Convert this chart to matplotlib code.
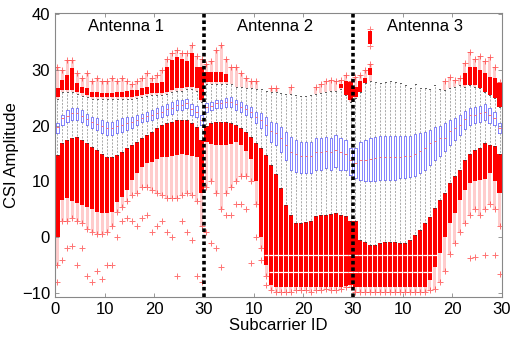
import numpy as np
import matplotlib.pyplot as plt

plt.rcParams['font.family'] = ['Liberation Sans', 'DejaVu Sans']

nan = np.nan

# 90 boxes: 30 subcarriers for each of the 3 antennas
q3 = [20.5, 21.9, 22.8, 23.2, 23.2, 22.8, 22.1, 21.5, 21.3, 21.0, 20.6, 20.6, 21.0, 21.3, 21.5, 21.5, 21.9, 22.1, 22.5, 22.8, 23.2, 23.5, 23.9, 24.2, 24.6, 24.6, 24.8, 23.9, 23.5, 21.9,
      24.0, 24.2, 24.6, 24.6, 24.9, 25.1, 24.6, 24.2, 23.7, 23.3, 22.4, 22.2, 21.5, 20.6, 20.4, 19.7, 18.9, 18.0, 17.4, 17.1, 17.1, 17.1, 17.8, 17.8, 18.0, 17.8, 18.3, 17.8, 17.4, 16.0,
      16.0, 17.1, 17.4, 17.8, 17.9, 18.1, 18.1, 18.1, 18.1, 18.1, 18.1, 18.1, 18.5, 18.7, 18.9, 19.2, 19.7, 19.9, 20.5, 21.0, 21.3, 21.9, 22.6, 23.2, 23.3, 23.5, 23.9, 23.2, 22.4, 20.5]
med = [19.7, 21.3, 21.8, 22.2, 22.2, 21.8, 21.2, 20.6, 20.3, 19.9, 19.5, 19.5, 19.9, 20.1, 20.4, 20.6, 21.1, 21.4, 21.7, 21.9, 22.3, 22.5, 22.9, 23.2, 23.7, 23.7, 24.0, 22.9, 22.5, 21.1,
       23.3, 23.6, 24.0, 24.0, 24.2, 24.3, 23.8, 23.4, 22.9, 22.5, 21.6, 21.0, 20.1, 19.0, 18.6, 17.7, 16.6, 15.3, 14.9, 14.6, 14.6, 14.6, 15.2, 15.2, 15.5, 15.2, 15.7, 15.2, 15.0, 13.9,
       13.3, 13.8, 13.9, 14.1, 14.2, 14.3, 14.4, 14.4, 14.3, 14.4, 14.5, 14.6, 15.0, 15.4, 16.0, 16.9, 17.3, 17.8, 17.8, 19.0, 19.5, 20.1, 21.2, 21.9, 21.9, 22.2, 22.4, 22.0, 21.3, 19.6]
q1 = [18.7, 20.2, 20.6, 21.0, 21.0, 20.6, 20.2, 19.6, 19.2, 18.7, 18.3, 18.3, 18.7, 18.9, 19.2, 19.6, 20.2, 20.6, 20.8, 21.0, 21.3, 21.5, 21.9, 22.1, 22.8, 22.8, 23.2, 21.9, 21.5, 20.2,
      22.4, 22.8, 23.2, 23.2, 23.3, 23.3, 22.8, 22.4, 21.9, 21.5, 20.5, 19.6, 18.3, 17.1, 16.5, 15.3, 13.8, 12.0, 11.7, 11.5, 11.5, 11.5, 12.0, 12.0, 12.4, 12.0, 12.6, 12.0, 12.0, 11.2,
      10.6, 10.2, 10.0, 10.0, 10.0, 10.2, 10.3, 10.3, 10.3, 10.6, 10.6, 10.8, 11.0, 11.5, 12.0, 12.9, 13.8, 14.5, 15.4, 16.5, 17.4, 18.3, 19.4, 20.1, 20.5, 20.6, 21.0, 20.5, 20.1, 18.7]
whi_hi = [24.8, 26.0, 26.0, 26.0, 25.6, 25.4, 25.1, 24.8, 24.8, 24.8, 24.8, 24.8, 24.8, 24.8, 24.8, 24.8, 25.0, 25.2, 25.3, 25.5, 25.5, 25.5, 25.7, 26.0, 26.3, 26.3, 26.6, 26.6, 26.3, 24.3,
          27.5, 27.5, 27.5, 27.5, 27.5, 27.5, 27.0, 27.0, 26.8, 26.8, 26.5, 26.5, 26.3, 26.0, 26.0, 25.8, 25.6, 25.6, 25.5, 25.3, 25.3, 25.5, 25.7, 25.8, 26.0, 26.3, 26.3, 26.5, 25.5, 24.3,
          25.0, 26.0, 27.6, 28.0, 27.8, 27.6, 27.8, 28.0, 27.8, 27.6, 27.2, 26.7, 27.4, 26.8, 26.7, 26.5, 27.2, 26.6, 26.4, 26.8, 27.0, 27.3, 27.0, 27.3, 27.0, 26.7, 26.0, 25.5, 25.0, 23.3]

# dense outliers above the whiskers (solid part, then sparse top)
up_lo = [25.1, 26.4, 26.4, 26.4, 26.0, 25.8, 25.5, 25.1, 25.1, 25.1, 25.1, 25.1, 25.1, 25.1, 25.1, 25.1, 25.3, 25.5, 25.6, 25.8, 25.8, 25.8, 26.0, 26.4, 26.7, 26.7, 27.0, 27.0, 26.7, 24.6,
         27.8, 27.8, 27.8, 27.8, 27.8] + [nan] * 22 + [26.8, 25.5, 24.6] + \
        [25.1, 26.0, 27.6, 29.1] + [nan] * 18 + [27.3, 27.3, 27.3, 26.7, 26.0, 25.5, 25.0, 23.3]
up_hi = [26.7, 28.2, 29.0, 30.3, 27.6, 26.9, 26.7, 26.0, 26.0, 25.8, 25.8, 25.8, 26.0, 26.0, 26.2, 26.4, 26.4, 26.7, 27.0, 27.6, 27.6, 27.8, 30.5, 31.7, 32.3, 32.0, 31.5, 33.0, 30.5, 30.5,
         29.6, 29.6, 29.6, 29.6, 29.2] + [nan] * 22 + [27.5, 28.0, 27.8] + \
        [27.0, 28.0, 28.5, 30.3] + [nan] * 18 + [29.5, 30.5, 30.5, 30.0, 29.4, 28.7, 28.5, 27.6]
up_max = [30.5, 30.0, 31.7, 31.7, 29.5, 28.5, 29.4, 28.0, 28.5, 28.0, 28.0, 28.5, 28.0, 28.5, 28.0, 27.5, 28.0, 28.5, 29.5, 28.5, 29.0, 30.0, 32.0, 33.0, 33.5, 33.0, 33.0, 34.4, 32.5, 32.0,
          31.0, 31.5, 33.5, 34.4, 32.0, 30.5, 30.5, 29.5, 28.5, 28.0, 28.0, nan, nan, 26.8, 26.8, nan, nan, 27.0, nan, nan, nan, nan, 27.0, 27.5, 28.0, 28.2, 28.0, 28.2, 29.0, 28.0,
          28.7, 29.0, 30.0, 31.0] + [nan] * 14 + [28.0, 28.8, 28.2, 28.5, 31.2, 33.2, 32.0, 32.5, 31.5, 32.3, 30.5, 27.8]

# dense outliers below the whiskers
lo_top = [14.7, 16.9, 17.4, 17.8, 17.9, 17.4, 16.9, 16.2, 15.6, 15.0, 14.4, 14.4, 14.7, 15.3, 16.0, 16.5, 17.1, 17.8, 18.3, 18.9, 19.6, 20.1, 20.5, 20.6, 21.0, 21.0, 21.0, 20.5, 19.7, 17.5,
          20.0, 20.4, 20.6, 20.6, 20.6, 20.4, 20.1, 19.6, 18.9, 18.0, 16.9, 16.0, 14.7, 13.0, 11.3, 8.8, 5.7, 4.0, 2.5, 2.5, 2.7, 3.0, 3.8, 4.0, 4.0, 4.2, 4.3, 4.0, 3.8, 3.0,
          3.0, -0.5, -0.9, -1.4, -1.4, -1.1, -0.9, -0.9, -0.9, -1.0, -1.0, -0.5, 0.4, 1.3, 2.5, 3.6, 5.2, 6.7, 7.9, 9.7, 11.0, 12.0, 13.8, 15.0, 15.6, 16.0, 16.9, 16.5, 16.3, 15.0]
lo_bot = [0.0, 6.7, 7.0, 6.5, 6.1, 5.8, 5.4, 5.0, 4.6, 4.3, 4.3, 4.5, 6.3, 7.2, 8.4, 10.2, 11.5, 12.6, 13.3, 13.5, 14.0, 14.4, 14.4, 14.6, 14.8, 15.0, 14.8, 14.6, 14.4, 8.0,
          17.0, 16.8, 16.6, 16.6, 16.6, 16.8, 17.0, 16.5, 15.5, 14.0, 10.0, 0.0, -5.0, -8.5, -9.0, -9.0, -9.0, -9.0, -9.0, -9.0, -9.0, -9.0, -9.0, -9.0, -9.0, -9.0, -9.0, -9.0, -8.8, -8.5] + \
         [-8.9] * 15 + [-7.7, -5.3, -2.9, 0.0, 2.5, 4.3, 6.7, 8.5, 9.7, 10.0, 10.2, 10.5, 11.5, 10.0, 7.9]
lo_fr = [-5.0, 3.0, 3.0, 3.5, 3.0, 2.5, 1.5, 1.0, 0.5, 0.5, 1.0, 2.0, 4.5, 5.5, 6.5, 7.5, 8.0, 9.0, 9.0, 8.5, 8.0, 7.5, 7.0, 7.0, 7.0, 7.5, 8.0, 7.5, 6.5, 2.0,
         9.0, 10.0, 8.0, 5.0, 8.0, 9.0, 10.0, 11.0, 11.0, 10.0, 6.0, -2.0, -7.0, -9.5, -9.8, -9.8, -9.8, -9.8, -9.5, -9.5, -9.5, -9.8, -9.5, -9.5, -9.3, -9.5, -9.5, -9.3, -9.0, -9.0] + \
        [-9.8] * 15 + [-9.5, -9.3, -8.0, -6.0, -3.0, -1.0, 1.0, 2.5, 4.0, 5.0, 4.0, 5.0, 6.0, 5.0, 2.0]
lo_min = [-8.0, -4.0, -2.0, -1.5, -5.0, -2.0, -7.0, -8.0, -6.0, -7.5, -5.0, -5.0, 0.0, 3.0, 3.5, 3.0, 2.0, 3.5, 4.0, 1.0, 2.0, 3.0, 1.0, 0.0, -7.0, 3.0, 1.0, -0.5, -7.0, -8.0,
          1.0, -1.0, -2.0, -5.3, 4.0, 4.0, 6.0, 6.0, 5.0, -4.6, 0.0, -4.0, -8.5] + [nan] * 17 + \
         [nan] * 23 + [-3.8, -3.6, nan, -3.2, nan, -3.2, -6.5]

# isolated cluster of outliers (antenna 3, subcarrier 4)
cluster_box = 63
cluster_lo, cluster_hi = 34.6, 36.9
# empty rows inside the low outlier bands
gap_levels = [-3.1, -6.3]

antennas = ['Antenna 1', 'Antenna 2', 'Antenna 3']
xticklabels = ['0', '10', '20', '30', '10', '20', '30', '10', '20', '30']

q3, med, q1, whi_hi = map(np.array, (q3, med, q1, whi_hi))
up_lo, up_hi, up_max = map(np.array, (up_lo, up_hi, up_max))
lo_top, lo_bot, lo_fr, lo_min = map(np.array, (lo_top, lo_bot, lo_fr, lo_min))
pos = np.arange(len(q3)) + 0.5

fig = plt.figure(figsize=(5.11, 3.39), dpi=100)
ax = fig.add_axes([0.1076, 0.124, 0.8748, 0.8378])

red = '#ff0000'
bw = 0.82
pk = dict(color=red, alpha=0.55, ms=5, mew=0.7, zorder=2)
# sparse outliers (faint) then dense outliers (solid)
m = ~np.isnan(up_max)
ax.bar(pos[m], up_max[m] - whi_hi[m], bottom=whi_hi[m], width=0.6, color=red, alpha=0.2, lw=0, zorder=1)
ax.plot(pos[m], up_max[m], '+', **pk)
m = ~np.isnan(up_lo)
ax.bar(pos[m], up_hi[m] - up_lo[m], bottom=up_lo[m], width=bw, color=red, lw=0, zorder=2)

ax.bar(pos, lo_bot - lo_fr, bottom=lo_fr, width=0.6, color=red, alpha=0.2, lw=0, zorder=1)
ax.plot(pos, lo_fr, '+', **pk)
m = ~np.isnan(lo_min)
ax.plot(pos[m], lo_min[m], '+', **pk)
ax.bar(pos, lo_top - lo_bot, bottom=lo_bot, width=bw, color=red, lw=0, zorder=2)
for g in gap_levels:
    m = (lo_bot < g) & (lo_top > g)
    ax.hlines(np.full(m.sum(), g), pos[m] - 0.5, pos[m] + 0.5, color='white', lw=0.9, zorder=3)

ax.bar(pos[cluster_box], cluster_hi - cluster_lo, bottom=cluster_lo, width=bw, color=red, lw=0, zorder=2)
ax.plot([pos[cluster_box]] * 2, [cluster_lo - 0.4, cluster_hi + 0.4], '+', color=red, alpha=0.5, ms=5, mew=0.7)

stats = [dict(med=med[i], q1=q1[i], q3=q3[i], whislo=lo_top[i], whishi=whi_hi[i], fliers=[])
         for i in range(len(q3))]
ax.bxp(stats, positions=pos, widths=0.45, showfliers=False, manage_ticks=False,
       boxprops=dict(color='#6f6fff', lw=0.6),
       medianprops=dict(color='#ff7070', lw=0.7),
       whiskerprops=dict(color='#888888', lw=0.5, ls=(0, (3, 2))),
       capprops=dict(color='#333333', lw=0.6), capwidths=0.2)

for xs in (30, 60):
    ax.axvline(xs, color='black', ls=(0, (1, 0.8)), lw=2.6, zorder=5)

for i, name in enumerate(antennas):
    ax.text(14.2 + 30.1 * i, 37.7, name, ha='center', va='center', fontsize=12)

ax.set_xlim(0, 90)
ax.set_ylim(-10.7, 40.2)
ax.set_xticks(np.arange(0, 91, 10))
ax.set_xticklabels(xticklabels)
ax.set_yticks([-10, 0, 10, 20, 30, 40])
ax.tick_params(direction='in', top=True, right=True, length=3, width=0.6,
               color='#888888', labelsize=12)
for s in ax.spines.values():
    s.set_color('#888888')
    s.set_linewidth(0.8)
ax.set_xlabel('Subcarrier ID', fontsize=12, labelpad=1)
ax.set_ylabel('CSI Amplitude', fontsize=12, labelpad=2)

fig.savefig('out.png', dpi=100)
